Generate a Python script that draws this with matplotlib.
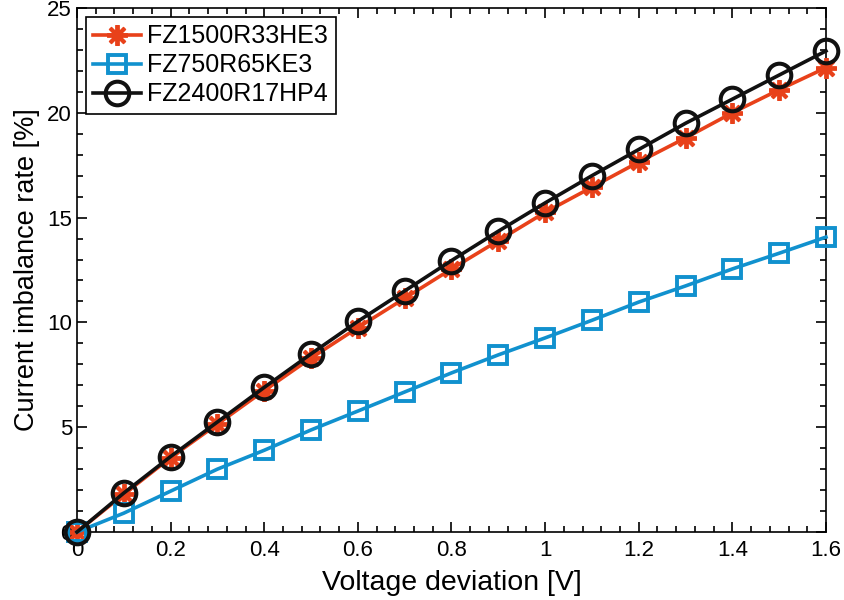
import matplotlib.pyplot as plt
from matplotlib.ticker import MultipleLocator, FuncFormatter

plt.rcParams['font.family'] = ['Liberation Sans', 'DejaVu Sans']

# voltage deviation [V]
volt = [0, 0.1, 0.2, 0.3, 0.4, 0.5, 0.6, 0.7, 0.8, 0.9, 1.0, 1.1, 1.2, 1.3, 1.4, 1.5, 1.6]

# current imbalance rate [%]
fz1500 = [0, 1.8, 3.55, 5.15, 6.75, 8.3, 9.75, 11.15, 12.55, 13.9, 15.25,
          16.45, 17.65, 18.8, 20.0, 21.1, 22.15]
fz750 = [0, 0.9, 1.95, 3.0, 3.9, 4.87, 5.77, 6.68, 7.59, 8.45, 9.26,
         10.1, 10.97, 11.74, 12.55, 13.3, 14.07]
fz2400 = [0, 1.86, 3.6, 5.25, 6.9, 8.5, 10.05, 11.5, 12.95, 14.35, 15.7,
          17.0, 18.25, 19.5, 20.65, 21.8, 22.95]

labels = ["FZ1500R33HE3", "FZ750R65KE3", "FZ2400R17HP4"]

red = "#E8411A"
blue = "#1191CE"
black = "#111111"

fig = plt.figure(figsize=(8.45, 6), dpi=100)
ax = fig.add_axes([0.0911, 0.1133, 0.8864, 0.8734])

ax.plot(volt, fz1500, color=red, lw=2.6, marker=(8, 2, 0), ms=15, mew=2.8,
        clip_on=False, zorder=3, label=labels[0])
ax.plot(volt, fz750, color=blue, lw=2.6, marker="s", ms=13, mew=2.8,
        mfc="none", clip_on=False, zorder=3, label=labels[1])
ax.plot(volt, fz2400, color=black, lw=2.6, marker="o", ms=17, mew=2.9,
        mfc="none", clip_on=False, zorder=4, label=labels[2])

ax.set_xlim(0, 1.6)
ax.set_ylim(0, 25)
ax.xaxis.set_major_locator(MultipleLocator(0.2))
ax.xaxis.set_minor_locator(MultipleLocator(0.04))
ax.yaxis.set_major_locator(MultipleLocator(5))
ax.yaxis.set_minor_locator(MultipleLocator(1))
ax.xaxis.set_major_formatter(FuncFormatter(lambda v, p: f"{v:g}"))

ax.tick_params(which="both", direction="in", top=True, right=True,
               labelsize=16, width=1.2)
ax.tick_params(axis="x", which="major", pad=6)
ax.tick_params(which="major", length=7)
ax.tick_params(which="minor", length=4)
for s in ax.spines.values():
    s.set_linewidth(1.2)

ax.set_xlabel("Voltage deviation [V]", fontsize=20.5, labelpad=6)
ax.set_ylabel("Current imbalance rate [%]", fontsize=19.5, labelpad=5)

leg = ax.legend(loc="upper left", fontsize=18, fancybox=False, framealpha=1,
                edgecolor="black", handlelength=1.9, borderaxespad=0.36,
                borderpad=0.3, labelspacing=0.2, handletextpad=0.25)
leg.get_frame().set_linewidth(1.2)

fig.savefig("out.png", dpi=100)
